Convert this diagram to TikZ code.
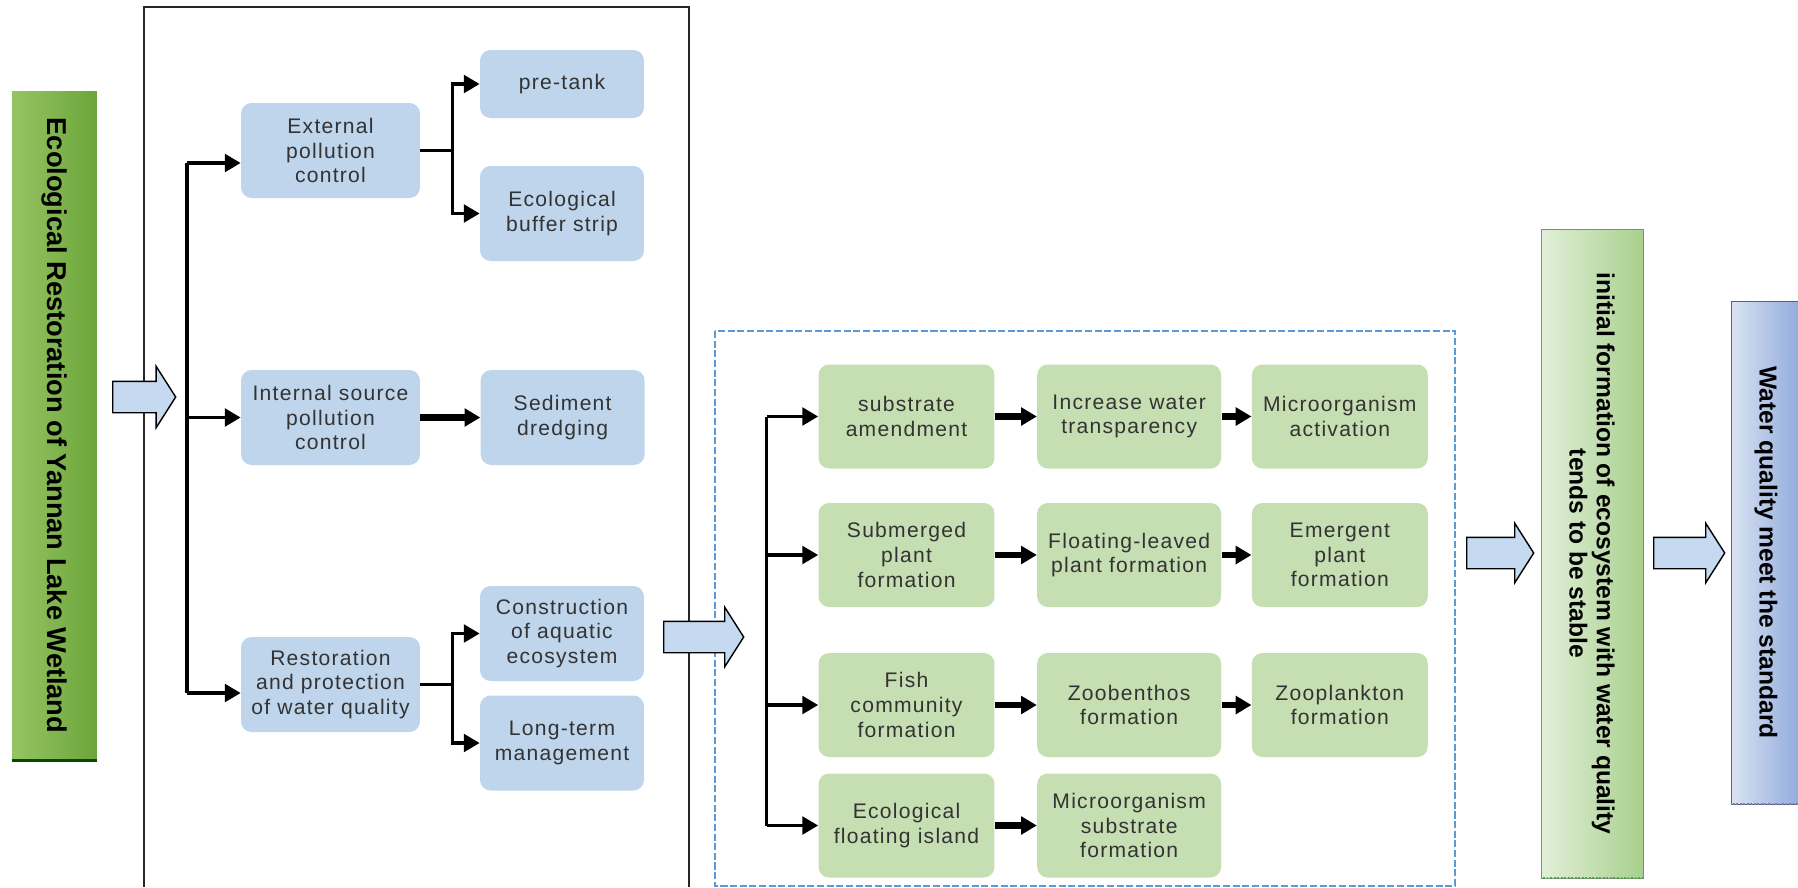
\documentclass[tikz,border=0pt]{standalone}
\usepackage{fontspec}
\setmainfont{Liberation Sans}
\newfontfamily\boxfont{Liberation Sans}[LetterSpace=6]
\usetikzlibrary{arrows.meta, positioning, shapes.arrows}

\definecolor{boxblue}{RGB}{190,213,236}
\definecolor{boxgreen}{RGB}{197,222,178}
\definecolor{arrfill}{RGB}{197,217,241}
\definecolor{dashblue}{RGB}{91,155,213}
\definecolor{bargreenL}{RGB}{150,196,100}
\definecolor{bargreenR}{RGB}{108,165,58}
\definecolor{palegreen}{RGB}{226,239,217}
\definecolor{midgreen}{RGB}{168,208,141}
\definecolor{paleblue}{RGB}{218,227,243}
\definecolor{midblue}{RGB}{143,170,220}

\begin{document}
\begin{tikzpicture}[
    x=0.02cm, y=-0.02cm,
    % --- block styles ---
    bluebox/.style={
        fill=boxblue, rounded corners=6pt, inner sep=2pt,
        minimum width=3.58cm, minimum height=1.9cm,
        font=\boxfont\fontsize{12}{14}\selectfont, text=black!80, align=center},
    subbox/.style={bluebox, minimum width=3.28cm},
    greenbox/.style={bluebox, fill=boxgreen, minimum width=3.52cm, minimum height=2.08cm},
    greenwide/.style={greenbox, minimum width=3.68cm},
    titlebar/.style={
        rotate=-90, minimum width=13.38cm, minimum height=1.7cm,
        left color=bargreenL, right color=bargreenR,
        font=\bfseries\fontsize{15.5}{18}\selectfont},
    resultbar/.style={
        rotate=-90, minimum width=12.98cm, minimum height=2.04cm,
        draw=green!40!gray, left color=palegreen, right color=midgreen,
        font=\bfseries\fontsize{14}{15.4}\selectfont, align=center},
    standardbar/.style={
        rotate=-90, minimum width=10.06cm, minimum height=1.4cm,
        draw=blue!30!gray, left color=paleblue, right color=midblue,
        font=\bfseries\fontsize{14}{16}\selectfont},
    bigarrow/.style={
        single arrow, draw=black, fill=arrfill, thick,
        inner xsep=0pt, inner ysep=0.3cm, minimum width=0pt,
        single arrow head extend=0.28cm, single arrow tip angle=115,
        anchor=tail},
    frame/.style={draw=black!85, line width=1pt},
    dashbox/.style={draw=dashblue, line width=1.4pt, dash pattern=on 4pt off 1.5pt},
    line/.style={line width=2pt, black},
    arr/.style={line, -{Triangle[length=9pt, width=10pt]}},
    fatarr/.style={arr, line width=3.5pt},
]
\useasboundingbox (0,0) rectangle (1798,887);

% ===== FRAMES =====
\draw[frame] (144,887) |- (689,7) -- (689,887);
\draw[dashbox] (715,331) rectangle (1455,886);

% ===== LEFT TITLE =====
\node[titlebar] (title) at (54.5,425.5) {Ecological Restoration of Yannan Lake Wetland};
\draw[green!30!black, line width=2pt] (title.north east) -- (title.south east);

% ===== POLLUTION CONTROL =====
\node[bluebox] (ext) at (330.5,150.5) {External\\pollution\\control};
\node[bluebox] (int) at (330.5,417.5) {Internal source\\pollution\\control};
\node[bluebox] (rest) at (330.5,684.5) {Restoration\\and protection\\of water quality};

\node[subbox, minimum height=1.36cm] (pretank) at (562,84) {pre-tank};
\node[subbox] (buffer) at (562,213.5) {Ecological\\buffer strip};
\node[subbox, right=1.2cm of int] (sed) {Sediment\\dredging};
\node[subbox] (cons) at (562,633.5) {Construction\\of aquatic\\ecosystem};
\node[subbox] (long) at (562,743) {Long-term\\management};

% trunk
\coordinate (tkA) at (187,163);
\coordinate (tkB) at (187,417.5);
\coordinate (tkC) at (187,693);
\draw[line] (tkA) -- (tkC);
\draw[arr] (tkA) -- (tkA -| ext.west);
\draw[arr] (tkB) -- (int);
\draw[arr] (tkC) -- (tkC -| rest.west);

% branches
\draw[arr] (ext.east) -- ++(32,0) |- (pretank);
\draw[arr] (ext.east) -- ++(32,0) |- (buffer);
\draw[fatarr] (int) -- (sed);
\draw[arr] (rest.east) -- ++(32,0) |- (cons);
\draw[arr] (rest.east) -- ++(32,0) |- (long);

% ===== ECOSYSTEM BUILDING =====
\node[greenbox] (sub) at (906.5,416.5) {substrate\\amendment};
\node[greenwide, right=0.84cm of sub] (inc) {Increase water\\transparency};
\node[greenbox, right=0.6cm of inc] (mic) {Microorganism\\activation};

\node[greenbox] (subm) at (906.5,555) {Submerged\\plant\\formation};
\node[greenwide, right=0.84cm of subm] (flo) {Floating-leaved\\plant formation};
\node[greenbox, right=0.6cm of flo] (eme) {Emergent\\plant\\formation};

\node[greenbox] (fish) at (906.5,705) {Fish\\community\\formation};
\node[greenwide, right=0.84cm of fish] (zoob) {Zoobenthos\\formation};
\node[greenbox, right=0.6cm of zoob] (zoop) {Zooplankton\\formation};

\node[greenbox] (efi) at (906.5,825.5) {Ecological\\floating island};
\node[greenwide, right=0.84cm of efi] (msub) {Microorganism\\substrate\\formation};

\coordinate (gk) at (766.6,0);
\draw[line] (gk |- sub) -- (gk |- efi);
\foreach \b in {sub,subm,fish,efi}{
    \draw[arr] (gk |- \b) -- (\b);
}
\draw[fatarr] (sub) -- (inc);
\draw[fatarr] (inc) -- (mic);
\draw[fatarr] (subm) -- (flo);
\draw[fatarr] (flo) -- (eme);
\draw[fatarr] (fish) -- (zoob);
\draw[fatarr] (zoob) -- (zoop);
\draw[fatarr] (efi) -- (msub);

% ===== RESULTS =====
\node[resultbar] (result) at (1592,553.5) {initial formation of ecosystem with water quality\\tends to be stable};
\draw[gray, densely dotted, line width=1pt] (result.north east) -- (result.south east);
\node[standardbar] (standard) at (1766,552.5) {Water quality meet the standard};
\draw[gray, densely dotted, line width=1pt] (standard.north east) -- (standard.south east);

% ===== BLOCK ARROWS =====
\node[bigarrow, minimum height=1.26cm, single arrow head extend=0.3cm] (arrA) at (112,397) {};
\node[bigarrow, minimum height=1.6cm] (arrB) at (663,637) {};
\node[bigarrow, minimum height=1.34cm] (arrC) at (1466,553) {};
\node[bigarrow, minimum height=1.42cm] (arrD) at (1653,553) {};

\end{tikzpicture}
\end{document}
